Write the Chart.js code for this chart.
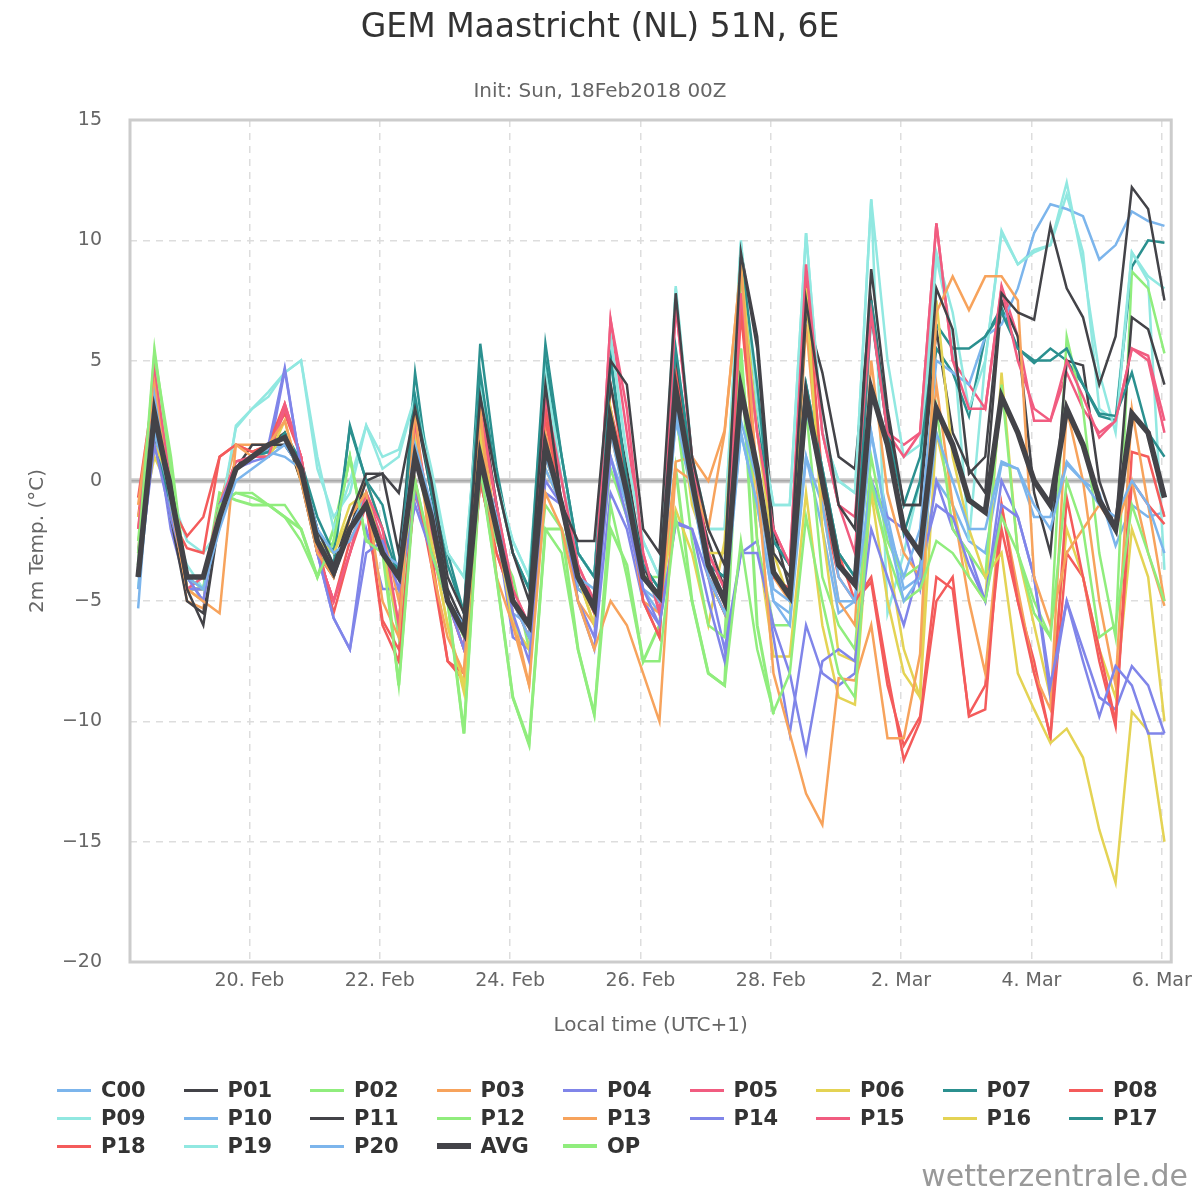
<!DOCTYPE html>
<html>
<head>
<meta charset="utf-8">
<script src="https://cdn.jsdelivr.net/npm/chart.js@4.4.1/dist/chart.umd.min.js"></script>
<style>
body { margin:0; background:#fff; font-family:"DejaVu Sans", sans-serif; }
#wrap { position:relative; width:1200px; height:1200px; }
#title { position:absolute; top:6px; left:0; width:1200px; text-align:center; font-size:33px; color:#333; }
#sub { position:absolute; top:78px; left:0; width:1200px; text-align:center; font-size:20px; color:#666; }
#legend { position:absolute; top:1076px; left:57px; width:1140px; display:grid; grid-template-columns:repeat(9,126.5px); row-gap:0; }
.item { height:28px; display:flex; align-items:center; font-weight:bold; font-size:21px; color:#333; }
.item span.l { display:inline-block; width:34px; margin-right:10px; }
#credit { position:absolute; right:12px; top:1158px; font-size:30px; color:#999; }
</style>
</head>
<body>
<div id="wrap">
<canvas id="c" width="1200" height="1200"></canvas>
<div id="title">GEM Maastricht (NL) 51N, 6E</div>
<div id="sub">Init: Sun, 18Feb2018 00Z</div>
<div id="legend"></div>
<div id="credit">wetterzentrale.de</div>
</div>
<script>
// hours since 18 Feb 00:00 local, 6-hourly steps
const startHour = 7;
const tickHours = [48, 96, 144, 192, 240, 288, 336, 384];
const tickLabels = ['20. Feb', '22. Feb', '24. Feb', '26. Feb', '28. Feb', '2. Mar', '4. Mar', '6. Mar'];

const names = ['C00','P01','P02','P03','P04','P05','P06','P07','P08','P09','P10','P11','P12','P13','P14','P15','P16','P17','P18','P19','P20','AVG','OP'];
const colors = ['#7cb5ec','#434348','#90ed7d','#f7a35c','#8085e9','#f15c80','#e4d354','#2b908f','#f45b5b','#91e8e1',
                '#7cb5ec','#434348','#90ed7d','#f7a35c','#8085e9','#f15c80','#e4d354','#2b908f','#f45b5b','#91e8e1','#7cb5ec','#434348','#90ed7d'];

const c00 = [-5.3,3.5,-1,-4, -4.5,-2,0,0.5, 1,1.5,0.5,-2, -3,-2.5,-1,-3, -3.5,1.5,-1,-5, -6,1,-1.5,-5, -6.5,1,-1,-4, -4.5,2,-1,-4, -5,3,-0.5,-4, -5.5,2.5,0,-4.5, -5,3,0,-4, -5,2,-2,-5, -4,2,0,-2, -2,0.8,0.5,-1, -2,0.7,0,-1, -1.5,0,-1,-3];
const p01 = [-4,2.5,0,-4.5, -6,-1.5,0.5,1, 1.5,1.5,0.5,-2, -3.5,-1.5,0.3,0.3, -0.5,3,0,-4, -5.5,3.5,0,-3, -5,4,-1,-2.5, -2.5,5,4,-2, -3,7.8,1,-2, -3.5,9.5,5.5,-3, -4,7.5,3,-1, -2,8.8,3,-1, -1,8,6.3,0.3, 1,7.8,7,6.7, 10.6,8,6.8,4, 6,12.2,11.3,7.5];
const p02 = [-3,5.5,0.5,-4, -4.5,-1,-0.5,-0.7, -1,-1.5,-2.5,-4, -2.5,1,-2.5,-3, -8.5,0,-3,-5, -10.5,0.5,-4,-9, -11,-2,-3,-7, -9.7,-1,-4,-7.5, -7.5,-1.5,-5,-8, -8.5,-2.5,-7,-9.6, -8,-1.5,-5,-8, -9,0,-3,-5, -4.5,-2.5,-3,-4, -5,-1.5,-3,-5.5, -6.5,0,-2,-6.5, -6,-1,-3,-5];
const p03 = [-1,4,-1,-4.5, -5,-5.5,1.5,1, 1.5,2.5,0,-3, -4,-1.5,-0.5,-5, -6.5,3,-3.5,-6.5, -8,3,-4,-6, -8.5,-0.5,-2,-5, -7,-5,-6,-8, -10,0.5,0,-2, 2,9,0,-8, -10.5,-13,-14.3,-8.2, -8.3,-6,-10.7,-10.7, -7.2,7,8.5,7.1, 8.5,8.5,7.5,-4, -6,-3,-2,-1, -2,0,-3,-5.2];
const p04 = [-4,1.5,-1.5,-4, -5,-1,0.5,1, 1.5,4.7,0.5,-3, -5.7,-7,-3,-2.5, -4.5,-1,-3,-5, -7,1,-2,-5.5, -7.5,0,-1,-5, -6.5,1,-1.5,-4.5, -6,-1.8,-2,-5, -7.5,-3,-3,-6, -8,-11.3,-7.5,-7, -7.5,-2,-4,-6, -3.5,-1,-1.5,-3.5, -5,-1,-1.5,-4, -8.5,-5,-7.5,-9.8, -7.7,-8.5,-10.5,-10.5];
const p05 = [-2,4.5,0,-4.5, -4,-1,0.8,1, 1,3.2,1,-3, -5,-3,-0.5,-2, -6,2.5,-2,-5, -7,3,-1,-4.5, -6,3.5,0,-3.5, -5,6.7,3,-3, -5.5,7.3,1,-3, -4.5,7.8,2,-2, -3.5,9,2,-1, -1.5,7,2,1, 2,10.7,5,3, 3,8,5,3, 2.5,5,3.5,1.8, 2.5,5.5,5,2];
const p06 = [-1.5,1.5,0,-4.5, -5,-1,0.5,1, 1,2.5,0,-2.5, -3,-1.5,-0.5,-3, -6,2,-2.5,-6, -8.5,2,-2,-6, -7,1,-1,-4, -6,3,-1,-4, -5,4,-1,-3, -3,9,2,-3, -5,8,-2,-7.2, -7.5,-0.5,-5,-8, -9,7.5,1,-2, -4,-3,-8,-9.5, -10.9,-10.3,-11.5,-14.5, -16.7,-9.6,-10.4,-15];
const p07 = [-3,1.5,-1,-4, -4,-1.5,0.5,1, 1.2,2,0.8,-1.5, -3,2.2,0,-2, -4,3.5,-0.5,-3.5, -5.5,4.5,0,-3, -4.5,5.7,1,-3, -4,5,0,-3.5, -4.5,5.5,0.5,-3.5, -4,9.3,4,-2.5, -3.5,4,0.5,-3, -4,7.5,2,-1, 1,6.5,5.5,5.5, 6,7,5.5,5, 5,5.5,4,2.8, 2.7,4.5,2,1];
const p08 = [-0.7,4,-1,-2.3, -1.5,1,1.5,1.2, 1.5,3.2,1,-2.5, -5.5,-3,-1,-6, -7.5,0,-3.5,-7.5, -8,0,-3,-5, -6.5,3,-1,-4, -5.5,3,0,-5, -6.5,4.5,0,-4, -5.5,7.5,0,-4, -4.5,8.5,0,-3, -5,-4,-8,-11.6, -10,-5,-4,-9.8, -9.5,-1,-5,-8, -10.6,-0.7,-4,-7, -10,0,-1,-1.8];
const p09 = [-3.5,3.5,-1.5,-3.5, -4.5,-1.5,2.2,3, 3.5,4.5,5,1, -2,0,2.3,0.5, 1,3.5,0,-3, -4,4.2,0,-2.5, -4,4.5,0,-3, -4,6,1,-2.5, -4,8.1,1,-2, -2,9.9,3,-1, -1,10.3,2,0, -0.5,11.7,5,1, 1.5,9.5,7,3, 5,10.4,9,9.5, 9.8,12.4,9,4.5, 2,9.5,8.5,8];
const p10 = [-4.5,2,-1,-4, -5,-1.5,0.5,1, 1.2,1,0.5,-2, -3.5,-2,-0.5,-3, -4,1,-1.5,-5, -6,0.5,-2,-5, -6.5,0.5,-1,-4.5, -5,1,-1,-4.5, -5,2.5,0,-4, -5,2,-1,-5, -6,1,-1,-5, -5,0,-2,-4, -2,5,4.5,4, 6,6.5,8,10.3, 11.5,11.3,11,9.2, 9.8,11.2,10.8,10.6];
const p11 = [-4,2,-1.5,-5, -5.5,-1,0.5,1.5, 1.5,2,0,-3, -4,-2,0,0.3, -3,3,-0.5,-4.5, -6,3.5,-1,-5, -6,4,-1,-4.5, -5,4,0.5,-3.5, -5,5,0,-2.5, -4.5,9.5,6,-2, -4.5,7,4.5,1, 0.5,7.5,2.5,-1, -1,6.3,2,0.5, -0.5,7.5,6,-0.5, -3,5,4.8,0, -2,6.8,6.3,4];
const p12 = [-2.5,4.5,-0.5,-4, -4.5,-1,-0.5,-0.5, -1,-1,-2,-4, -2.5,1,-2.5,-2.5, -6.5,1.5,-2,-5, -6.5,0,-2.5,-4, -7,-1,-2,-4, -5.5,0.5,-1.5,-4, -4,3,-2.5,-6, -6.5,5.5,-2.5,-6, -6,3,-4,-6, -7,1,-2.5,-4, -3.5,3,-2,-3, -4,4,-3,-5, -6.5,6,3,-3, -6.5,8.7,8,5.3];
const p13 = [-2,3,-1,-5, -5.3,-1,1.5,1.5, 1.5,2,0,-2.5, -4,-1.5,0,-2, -5,2,-1.5,-5, -6,2.5,-2,-5.5, -8.5,2,-1,-5, -6,2,-1,-5, -5.5,0.8,1,0, 2.1,9,-0.5,-4, -5,6.5,-1,-5, -6,5,-0.5,-3, -4,4,-1,-5, -8,-1,-4.5,-8, -9.5,3,0,-5, -8.5,3,-1,-5];
const p14 = [-4,2.5,-2,-4.5, -4.5,-1.5,0.5,0.8, 1,4.6,0.5,-3, -5.7,-7,-2,-4.5, -4.5,-0.5,-3,-5, -6,1,-2,-6.5, -7,-0.5,-1,-5, -7,-0.5,-2,-5, -6,-1.7,-2,-4, -7,-3,-2.5,-6.5, -10.5,-6,-8,-8.5, -8,0,-1.5,-2, -4.5,0,-2,-3, -5,0,-1.5,-4, -9,-5,-7,-9, -9.5,-7.7,-8.5,-10.5];
const p15 = [-3,4.5,0,-4.5, -4.5,-1,0.8,1, 1,3,1,-3, -5,-3,-0.5,-2.5, -6,2,-2,-5, -7,2.5,-1,-4.5, -6,3,0,-3.5, -5,6.7,2,-3, -5.5,7.3,1,-3, -4.5,7.5,2,-2, -3.5,8.5,2,-1, -3,7,2,1.5, 2,10.7,5,4, 3,8.1,6,2.5, 2.5,4.5,3,2, 2.5,5.5,5.2,2.5];
const p16 = [-2.5,1,-0.5,-4.5, -5,-1,0.5,1, 1,2,0,-2.5, -3,-1,-0.5,-3, -6,1.5,-2.5,-6, -8.8,1.5,-2,-6, -7,0.5,-1,-4, -6,2.5,-1,-4, -5,-1.2,-3,-6, -2.5,9.2,-2.5,-7.3, -7.3,-0.5,-6,-9, -9.3,-0.3,-3,-7, -9,2,-1,-4, -5,4.5,-3,-6, -9,-2,-4,-7, -9,-2,-4,-10];
const p17 = [-3,2,-1,-4.5, -4.5,-1,0.5,1, 1.2,2,0.5,-2, -3.5,2.3,0,-1, -4,4.5,-0.5,-3, -5.5,5.7,0.5,-3, -4.5,5,1,-3, -4,5.2,0,-3.5, -4.5,5.3,0.5,-3.5, -4,8.6,3,-2.5, -3.5,4,0.5,-3, -4,6.9,2,-2.2, 0,5.5,4.5,2.7, 6,7.2,5.5,4.9, 5.5,5,4,2.7, 2.5,8.9,10,9.9];
const p18 = [-1.5,3.7,-1.5,-2.8, -3,1,1.5,1.2, 1.5,2.8,1,-3, -5,-2.5,-1,-5.8, -7,-0.5,-3,-7.5, -8.3,0,-3,-5, -6,2.5,-1,-4, -5,4,0,-5, -6.5,4.2,0,-4, -5.5,7,0,-4, -4.5,8.5,-1,-4, -5,-4.2,-8.5,-11, -9.8,-4,-4.5,-9.7, -8.5,-2,-5,-7.5, -10.7,-3,-4,-7.5, -10.2,1.2,1,-1.5];
const p19 = [-4.5,3.8,-0.5,-2.5, -3,-2,2.3,3, 3.7,4.5,5,0.5, -1.5,-0.5,2.3,1, 1.3,3.5,0.5,-3, -4,4,0,-2.5, -4,5,0,-3, -4,6,1,-2.5, -4,8,1,-2, -2,10,3,-1, -1,10.3,2,0, -0.5,11.7,-5.5,-3, 0,9.3,6,-2.5, 5,10.3,9,9.6, 9.8,11.9,9.5,3, 2.5,9.5,8.3,-3.7];
const p20 = [-4,2.3,-1.5,-4, -5,-1,0.5,1, 1.3,1.5,0.5,-2.5, -3.5,-2,-0.5,-3, -4,1,-1.5,-5, -6,0,-1,-5.5, -6,1,-1,-4, -5,1,-1.5,-4.5, -5.5,2.5,-0.5,-4, -5.5,2,-1,-5, -5.5,1,-2,-5.5, -5,2,-1.5,-4.5, -4,0,-1,-2.5, -3,0.7,0.5,-1.5, -1.5,0.8,0,-0.5, -2.7,-1,-1.5,-1.3];
const avg = [-4,2.8,-0.5,-4, -4,-1.5,0.5,1, 1.5,1.8,0.5,-2.5, -3.8,-2,-1,-3, -4,1,-1.5,-5, -6.3,1,-2,-5, -6,1.5,-1,-4, -5.3,2.5,-0.5,-4, -4.8,3.8,0,-3.5, -5,3.8,0.5,-3.8, -4.8,3.5,0,-3.5, -4.3,3.8,1.5,-2, -3,3,1.5,-0.8, -1.3,3.5,2,0, -1,3,1.5,-0.8, -2,2.8,2,-0.7];
const op = [-3.5,5.2,1,-4.5, -4.5,-0.5,-0.8,-1, -1,-1.5,-2,-4, -2,1,-2.5,-2.5, -8.5,0,-3,-5, -10.5,0.5,-4,-9, -10.9,-2,-2,-7, -9.7,-2,-3.5,-7.5, -6,0.5,-5,-8, -8.5,5.5,-6,-9.7];

const series = [c00,p01,p02,p03,p04,p05,p06,p07,p08,p09,p10,p11,p12,p13,p14,p15,p16,p17,p18,p19,p20,avg,op];

const datasets = series.map(function (vals, i) {
    const name = names[i];
    return {
        label: name,
        data: vals.map(function (v, k) { return { x: startHour + 6 * k, y: v }; }),
        borderColor: colors[i],
        borderWidth: name == 'AVG' ? 5.5 : (name == 'OP' ? 3 : 2.5),
        pointRadius: 0,
        fill: false,
        order: name == 'AVG' ? 0 : 1
    };
});

// legend as html grid
const leg = document.getElementById('legend');
names.forEach(function (n, i) {
    const d = document.createElement('div');
    d.className = 'item';
    const h = n == 'AVG' ? 6 : (n == 'OP' ? 4 : 3);
    d.innerHTML = '<span class="l" style="height:' + h + 'px;background:' + colors[i] + '"></span>' + n;
    leg.appendChild(d);
});

const framePlugin = {
    id: 'frame',
    beforeDatasetsDraw(chart) {
        const a = chart.chartArea, ctx = chart.ctx;
        const y0 = chart.scales.y.getPixelForValue(0);
        ctx.save();
        ctx.strokeStyle = '#c8c8c8';
        ctx.lineWidth = 5;
        ctx.beginPath(); ctx.moveTo(a.left, y0); ctx.lineTo(a.right, y0); ctx.stroke();
        ctx.strokeStyle = '#999';
        ctx.lineWidth = 1;
        ctx.beginPath(); ctx.moveTo(a.left, y0); ctx.lineTo(a.right, y0); ctx.stroke();
        ctx.restore();
    },
    afterDraw(chart) {
        const a = chart.chartArea, ctx = chart.ctx;
        ctx.save();
        ctx.strokeStyle = '#ccc';
        ctx.lineWidth = 3;
        ctx.strokeRect(a.left, a.top, a.right - a.left, a.bottom - a.top);
        ctx.restore();
    }
};

new Chart(document.getElementById('c'), {
    type: 'line',
    data: { datasets: datasets },
    options: {
        responsive: false,
        devicePixelRatio: 1,
        animation: false,
        layout: { padding: { top: 120, right: 28, bottom: 158, left: 0 } },
        plugins: { legend: { display: false }, tooltip: { enabled: false } },
        scales: {
            x: {
                type: 'linear', min: 4, max: 387.5,
                afterBuildTicks: function (s) { s.ticks = tickHours.map(function (v) { return { value: v }; }); },
                afterFit: function (s) { s.height = 80; },
                ticks: {
                    autoSkip: false, maxRotation: 0, color: '#666', font: { size: 19, family: 'DejaVu Sans' }, padding: 8,
                    callback: function (v) { return tickLabels[tickHours.indexOf(v)]; }
                },
                grid: { color: '#ddd', lineWidth: 1.5, drawTicks: false },
                border: { display: false, dash: [7, 6] },
                title: { display: true, text: 'Local time (UTC+1)', color: '#666', font: { size: 20, family: 'DejaVu Sans' }, padding: { top: 10 } }
            },
            y: {
                min: -20, max: 15,
                afterFit: function (s) { s.width = 130; },
                ticks: { stepSize: 5, color: '#666', font: { size: 19, family: 'DejaVu Sans' }, padding: 28,
                    callback: function (v) { return v < 0 ? '\u2212' + Math.abs(v) : v; } },
                grid: { color: '#ddd', lineWidth: 1.5, drawTicks: false },
                border: { display: false, dash: [7, 6] },
                title: { display: true, text: '2m Temp. (°C)', color: '#666', font: { size: 20, family: 'DejaVu Sans' }, padding: { top: 26, bottom: 4 } }
            }
        }
    },
    plugins: [framePlugin]
});
</script>
</body>
</html>
